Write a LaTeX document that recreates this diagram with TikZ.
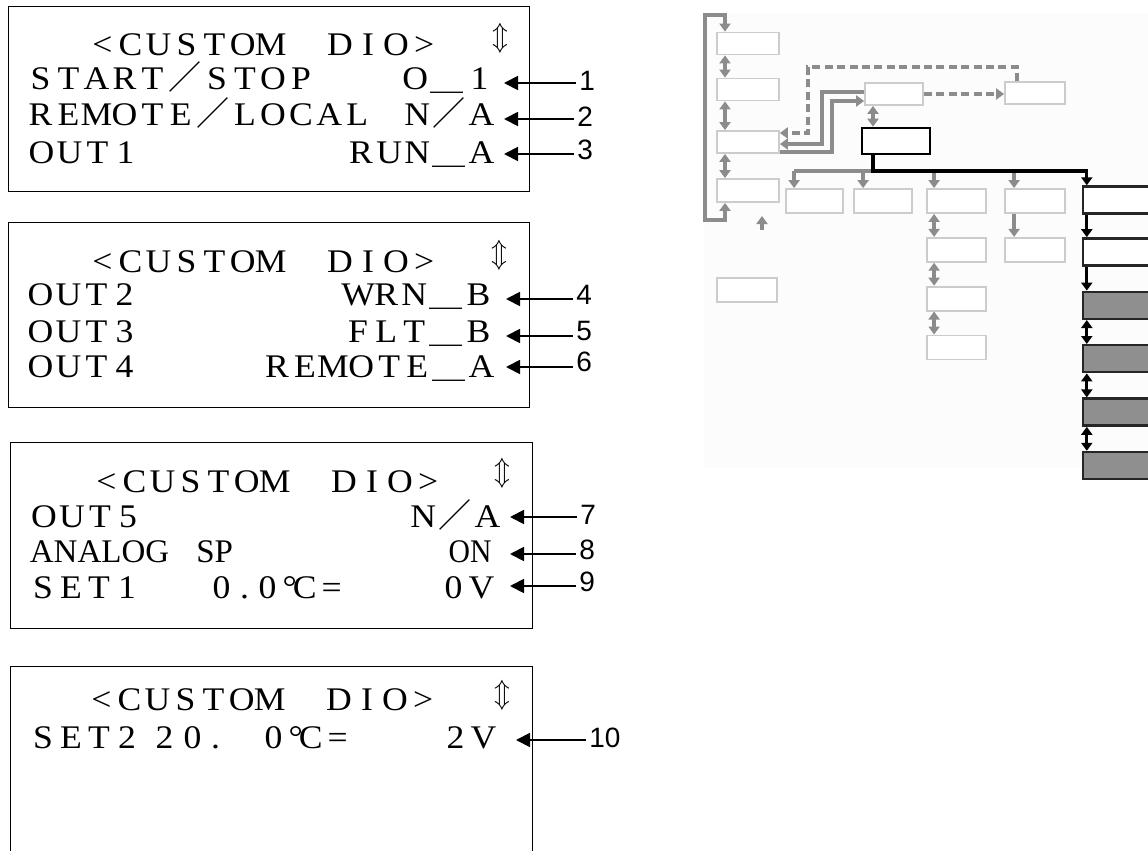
\documentclass[tikz,border=0pt]{standalone}
\usepackage{fontspec}
\usepackage{graphicx}
\setmainfont{Liberation Serif}
\newfontfamily\lcdfont[FakeStretch=1.08]{Liberation Serif}
\newfontfamily\cjkfont{Noto Sans CJK JP}
\newfontfamily\numfont{Liberation Sans}
\usetikzlibrary{arrows.meta,positioning}
\definecolor{panelbg}{RGB}{252,252,252}
\definecolor{linegray}{RGB}{140,140,140}
\definecolor{boxgray}{RGB}{204,204,204}
\definecolor{fillgray}{RGB}{143,143,143}
\newcommand{\fslash}{{\cjkfont ／}}
\newcommand{\lowline}{{\cjkfont ＿}}
\newcommand{\degc}{°\kern-0.12em C}
\newcommand{\updn}{\scalebox{0.9}[1]{$\Updownarrow$}}
% fixed-pitch screen text: one cell per character
\newcommand{\mono}[1]{\monostep#1\relax}
\def\monostep#1{%
  \ifx#1\relax
  \else
    \ifx#1\fslash \makebox[1.1em]{#1}%
    \else\ifx#1\lowline \makebox[1.1em]{#1}%
    \else\ifx#1\degc \makebox[1.1em]{#1}%
    \else\ifx#1~\makebox[1.25em]{}%
    \else\ifx#1.\makebox[0.55em]{#1}%
    \else \makebox[0.85em]{#1}%
    \fi\fi\fi\fi\fi
    \expandafter\monostep
  \fi}

\begin{document}
\begin{tikzpicture}[x=0.5pt, y=-0.5pt,
    lcdtext/.style={font=\lcdfont\fontsize{16.5}{20}\selectfont, inner sep=0pt},
    plaintext/.style={font=\fontsize{16.5}{20}\selectfont, inner sep=0pt},
    arrowsym/.style={font=\fontsize{14}{16}\selectfont, inner sep=0pt},
    numtext/.style={font=\numfont\fontsize{14}{16}\selectfont, inner sep=1.5pt, anchor=west},
    frame/.style={draw=black, line width=0.5pt},
    callout/.style={draw=black, line width=0.9pt, -{Triangle[length=7pt,width=7pt]}},
    mbox/.style={draw=boxgray, line width=0.9pt, fill=white, minimum width=30pt, minimum height=12pt, inner sep=0pt},
    bbox/.style={draw=black, line width=1.3pt, fill=white, minimum width=34pt, minimum height=13pt, inner sep=0pt},
    kbox/.style={draw=black!85, line width=1.2pt, fill=white, minimum width=38.5pt, minimum height=13.5pt, inner sep=0pt},
    gline/.style={draw=linegray, line width=1.7pt},
    garr/.style={gline, -{Triangle[length=4pt,width=5.5pt]}},
    gdarr/.style={gline, {Triangle[length=4pt,width=5.5pt]}-{Triangle[length=4pt,width=5.5pt]}},
    gdash/.style={garr, dash pattern=on 4pt off 2.2pt},
    backloop/.style={draw=linegray, line width=2.2pt, {Triangle[length=4pt,width=5.5pt]}-{Triangle[length=4pt,width=5.5pt]}},
    bline/.style={draw=black, line width=1.6pt},
    barr/.style={bline, -{Triangle[length=4pt,width=5.5pt]}},
    bdarr/.style={bline, {Triangle[length=4pt,width=5.5pt]}-{Triangle[length=4pt,width=5.5pt]}}
  ]
  \clip (0,0) rectangle (1148,851);
  \fill[white] (0,0) rectangle (1148,851);

  % screen 1
  \draw[frame] (8,6) rectangle (529,191);
  \node[lcdtext, anchor=base west] (s1t) at (88,55) {\mono{<CUSTOM~DIO>}};
  \node[arrowsym] (s1u) at (500,38.5) {\updn};
  \node[lcdtext, anchor=base west] (s1a) at (26,90) {\mono{START\fslash STOP}};
  \node[lcdtext, anchor=base east] (s1av) at (494,90) {\mono{O\lowline 1}};
  \node[lcdtext, anchor=base west] (s1b) at (26,126) {\mono{REMOTE\fslash LOCAL}};
  \node[lcdtext, anchor=base east] (s1bv) at (496,126) {\mono{N\fslash A}};
  \node[lcdtext, anchor=base west] (s1c) at (27,163) {\mono{OUT1}};
  \node[lcdtext, anchor=base east] (s1cv) at (496,163) {\mono{RUN\lowline A}};

  % screen 2
  \draw[frame] (8,222) rectangle (529,407);
  \node[lcdtext, anchor=base west] (s2t) at (88,272) {\mono{<CUSTOM~DIO>}};
  \node[arrowsym] (s2u) at (499,255) {\updn};
  \node[lcdtext, anchor=base west] (s2a) at (26,305) {\mono{OUT2}};
  \node[lcdtext, anchor=base east] (s2av) at (493,305) {\mono{WRN\lowline B}};
  \node[lcdtext, anchor=base west] (s2b) at (26,342) {\mono{OUT3}};
  \node[lcdtext, anchor=base east] (s2bv) at (493,342) {\mono{FLT\lowline B}};
  \node[lcdtext, anchor=base west] (s2c) at (26,377) {\mono{OUT4}};
  \node[lcdtext, anchor=base east] (s2cv) at (496,377) {\mono{REMOTE\lowline A}};

  % screen 3
  \draw[frame] (10.5,442) rectangle (532,628);
  \node[lcdtext, anchor=base west] (s3t) at (92,492) {\mono{<CUSTOM~DIO>}};
  \node[arrowsym] (s3u) at (502,473) {\updn};
  \node[lcdtext, anchor=base west] (s3a) at (29.5,527) {\mono{OUT5}};
  \node[lcdtext, anchor=base east] (s3av) at (502,527) {\mono{N\fslash A}};
  \node[plaintext, anchor=base west] (s3b) at (29.5,562) {ANALOG};
  \node[plaintext, anchor=base west] (s3b2) at (196,562) {SP};
  \node[plaintext, anchor=base east] (s3bv) at (492,562) {\scalebox{0.9}[1]{ON}};
  \node[lcdtext, anchor=base west] (s3c) at (28.5,598) {\mono{SET1}};
  \node[lcdtext, anchor=base west] (s3c2) at (207,598) {\mono{0.}};
  \node[lcdtext, anchor=base west] (s3c3) at (253,598) {\mono{0\degc=}};
  \node[lcdtext, anchor=base east] (s3cv) at (496,598) {\mono{0V}};

  % screen 4
  \draw[frame] (10.5,666) rectangle (532,880);
  \node[lcdtext, anchor=base west] (s4t) at (87,710) {\mono{<CUSTOM~DIO>}};
  \node[arrowsym] (s4u) at (502,695) {\updn};
  \node[lcdtext, anchor=base west] (s4a) at (28.5,748) {\mono{SET2}};
  \node[lcdtext, anchor=base west] (s4a2) at (150,748) {\mono{20.}};
  \node[lcdtext, anchor=base west] (s4a3) at (259,748) {\mono{0\degc=}};
  \node[lcdtext, anchor=base east] (s4av) at (498,748) {\mono{2V}};

  % callouts
  \coordinate (t1) at (504,83);
  \coordinate (t2) at (504,119);
  \coordinate (t3) at (504,154);
  \coordinate (t4) at (506,299);
  \coordinate (t5) at (506,336);
  \coordinate (t6) at (506,367);
  \coordinate (t7) at (510,517);
  \coordinate (t8) at (510,554);
  \coordinate (t9) at (510,586);
  \coordinate (t10) at (516,740);
  \node[numtext] (n1) at (576,81) {1};
  \node[numtext] (n2) at (574,117) {2};
  \node[numtext] (n3) at (574,150) {3};
  \node[numtext] (n4) at (573,295) {4};
  \node[numtext] (n5) at (573,331) {5};
  \node[numtext] (n6) at (573,362) {6};
  \node[numtext] (n7) at (577,515) {7};
  \node[numtext] (n8) at (576,550) {8};
  \node[numtext] (n9) at (576,582) {9};
  \node[numtext] (n10) at (586,738) {10};
  \draw[callout] (n1.west |- t1) -- (t1);
  \draw[callout] (n2.west |- t2) -- (t2);
  \draw[callout] (n3.west |- t3) -- (t3);
  \draw[callout] (n4.west |- t4) -- (t4);
  \draw[callout] (n5.west |- t5) -- (t5);
  \draw[callout] (n6.west |- t6) -- (t6);
  \draw[callout] (n7.west |- t7) -- (t7);
  \draw[callout] (n8.west |- t8) -- (t8);
  \draw[callout] (n9.west |- t9) -- (t9);
  \draw[callout] (n10.west |- t10) -- (t10);

  % menu map
  \fill[panelbg] (704,13) rectangle (1160,468);
  \node[mbox, minimum width=31pt, minimum height=11pt] (l1) at (748,43.5) {};
  \node[mbox, minimum width=31pt, minimum height=11pt] (l2) at (748,89.5) {};
  \node[mbox, minimum width=31pt, minimum height=11pt] (l3) at (748,142) {};
  \node[mbox, minimum width=31pt, minimum height=11.5pt] (l4) at (748,190.5) {};
  \node[mbox] (l5) at (747,290) {};
  \node[mbox, minimum width=29pt, minimum height=11pt] (m1) at (894,94) {};
  \node[mbox, minimum height=11pt] (r1) at (1035,93) {};
  \node[bbox] (b1) at (896,141) {};
  \node[mbox, minimum width=28.5pt] (c1) at (814.5,201) {};
  \node[mbox, minimum width=29pt] (c2) at (883,201) {};
  \node[mbox, minimum width=29.5pt] (c3) at (956.5,201) {};
  \node[mbox] (c4) at (1035,201) {};
  \node[mbox, minimum width=29.5pt, below=11.5pt of c3] (c3b) {};
  \node[mbox, minimum width=29.5pt, below=11.5pt of c3b] (c3c) {};
  \node[mbox, minimum width=29.5pt, below=11.5pt of c3c] (c3d) {};
  \node[mbox, below=11.5pt of c4] (c4b) {};
  \node[kbox] (k1) at (1121.5,200) {};
  \node[kbox, below=11.25pt of k1] (k2) {};
  \node[kbox, fill=fillgray, below=12pt of k2] (k3) {};
  \node[kbox, fill=fillgray, below=12pt of k3] (k4) {};
  \node[kbox, fill=fillgray, below=12pt of k4] (k5) {};
  \node[kbox, fill=fillgray, below=12pt of k5] (k6) {};

  \coordinate (lx) at (725,0);
  \coordinate (loopa) at (705,15);
  \coordinate (loopb) at (725,220);
  \draw[backloop] (l1.north -| lx) |- (loopa) |- (loopb) -- (l4.south -| lx);
  \draw[gdarr] (l1.south -| lx) -- (l2.north -| lx);
  \draw[gdarr] (l2.south -| lx) -- (l3.north -| lx);
  \draw[gdarr] (l3.south -| lx) -- (l4.north -| lx);
  \coordinate (ua) at (762,230);
  \coordinate (ub) at (762,216);
  \draw[garr] (ua) -- (ub);

  \coordinate (da) at (808,67);
  \coordinate (ga) at (822,120);
  \coordinate (gb) at (832,120);
  \draw[gdash] ([xshift=6.5pt]r1.north west) |- (da) |- ([yshift=4.5pt]l3.east);
  \draw[garr] ([yshift=1pt]m1.west) -| (ga) |- ([yshift=-1pt]l3.east);
  \draw[garr] ([yshift=-5pt]l3.east) -| (gb) |- ([yshift=-3.5pt]m1.west);
  \draw[gdash] (m1.east) -- (m1.east -| r1.west);

  \coordinate (mbx) at (873,0);
  \coordinate (split) at (873,171);
  \draw[gdarr] (m1.south -| mbx) -- (b1.north -| mbx);
  \coordinate (c1in) at ([xshift=4.5pt]c1.north west);
  \coordinate (c2in) at ([xshift=5pt]c2.north west);
  \coordinate (c3in) at ([xshift=4pt]c3.north west);
  \coordinate (c4in) at ([xshift=5pt]c4.north west);
  \draw[gline] (split) -- (split -| c1in);
  \draw[garr] (split -| c1in) -- (c1in);
  \draw[garr] (split -| c2in) -- (c2in);
  \draw[garr] (split -| c3in) -- (c3in);
  \draw[garr] (split -| c4in) -- (c4in);
  \draw[gdarr] ([xshift=4pt]c3.south west) -- ([xshift=4pt]c3b.north west);
  \draw[gdarr] ([xshift=4pt]c3b.south west) -- ([xshift=4pt]c3c.north west);
  \draw[gdarr] ([xshift=4pt]c3c.south west) -- ([xshift=4pt]c3d.north west);
  \draw[garr] ([xshift=5pt]c4.south west) -- ([xshift=5pt]c4b.north west);

  \draw[barr] (b1.south -| mbx) -- (split) -| ([xshift=2.5pt]k1.north west);
  \draw[barr] ([xshift=2.5pt]k1.south west) -- ([xshift=2.5pt]k2.north west);
  \draw[barr] ([xshift=2.5pt]k2.south west) -- ([xshift=2.5pt]k3.north west);
  \draw[bdarr] ([xshift=2.5pt]k3.south west) -- ([xshift=2.5pt]k4.north west);
  \draw[bdarr] ([xshift=2.5pt]k4.south west) -- ([xshift=2.5pt]k5.north west);
  \draw[bdarr] ([xshift=2.5pt]k5.south west) -- ([xshift=2.5pt]k6.north west);
\end{tikzpicture}
\end{document}
